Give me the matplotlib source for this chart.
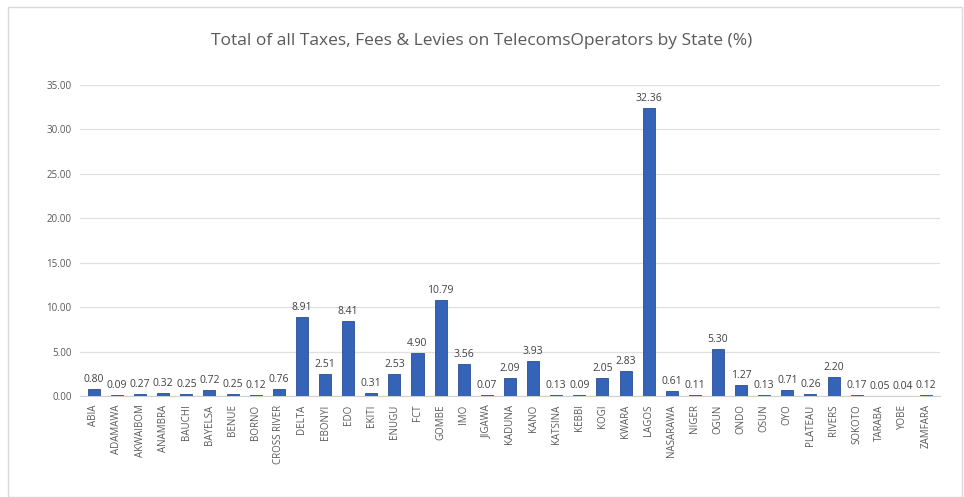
import numpy as np
import matplotlib
matplotlib.use('Agg')
from matplotlib import pyplot as plt
from matplotlib.patches import Rectangle

## data ##
states = ['ABIA', 'ADAMAWA', 'AKWAIBOM', 'ANAMBRA', 'BAUCHI', 'BAYELSA', 'BENUE', 'BORNO',
          'CROSS RIVER', 'DELTA', 'EBONYI', 'EDO', 'EKITI', 'ENUGU', 'FCT', 'GOMBE', 'IMO',
          'JIGAWA', 'KADUNA', 'KANO', 'KATSINA', 'KEBBI', 'KOGI', 'KWARA', 'LAGOS',
          'NASARAWA', 'NIGER', 'OGUN', 'ONDO', 'OSUN', 'OYO', 'PLATEAU', 'RIVERS',
          'SOKOTO', 'TARABA', 'YOBE', 'ZAMFARA']
share = [0.80, 0.09, 0.27, 0.32, 0.25, 0.72, 0.25, 0.12,
         0.76, 8.91, 2.51, 8.41, 0.31, 2.53, 4.90, 10.79, 3.56,
         0.07, 2.09, 3.93, 0.13, 0.09, 2.05, 2.83, 32.36,
         0.61, 0.11, 5.30, 1.27, 0.13, 0.71, 0.26, 2.20,
         0.17, 0.05, 0.04, 0.12]
yticks = [0, 5, 10, 15, 20, 25, 30, 35]

plt.rcParams['font.family'] = ['Open Sans', 'DejaVu Sans']

fig = plt.figure(figsize=(9.64, 4.97), dpi=100)
# chart frame
fig.patches.append(Rectangle((0.008, 0.0), 0.99, 0.985, transform=fig.transFigure,
                             fill=False, edgecolor='#d9d9d9', linewidth=1.0))
ax = fig.add_axes([0.083, 0.203, 0.892, 0.626])

x = np.arange(len(states))
ax.bar(x, share, width=0.52, color='#3563b7', edgecolor='#2a4f95', linewidth=0.6, zorder=3)

for xi, v in zip(x, share):
    ax.text(xi, v + 0.45, f'{v:.2f}', ha='center', va='bottom', fontsize=7.5, color='#404040')

ax.set_xlim(-0.6, len(states) - 0.4)
ax.set_ylim(0, 35)
ax.set_yticks(yticks)
ax.set_yticklabels([f'{t:.2f}' for t in yticks], fontsize=7, color='#595959')
ax.set_xticks(x)
ax.set_xticklabels(states, rotation=90, fontsize=7, color='#595959')
ax.tick_params(length=0, pad=6)
ax.grid(axis='y', color='#e0e0e0', linewidth=0.9, zorder=0)
for s in ['left', 'right', 'top']:
    ax.spines[s].set_visible(False)
ax.spines['bottom'].set_color('#d0d0d0')

fig.text(0.5, 0.918, 'Total of all Taxes, Fees & Levies on TelecomsOperators by State (%)',
         ha='center', va='center', fontsize=12.5, color='#595959')

fig.savefig('out.png', dpi=100)
